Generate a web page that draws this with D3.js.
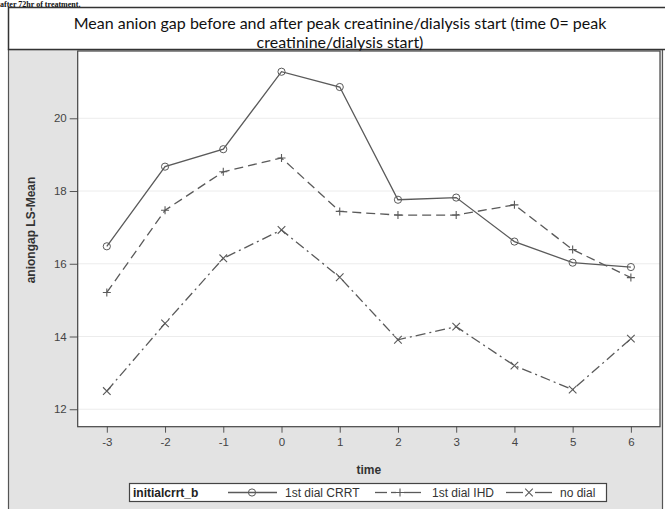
<!DOCTYPE html>
<html>
<head>
<meta charset="utf-8">
<script src="https://cdn.jsdelivr.net/npm/d3@7"></script>
<style>
  html, body { margin: 0; padding: 0; background: #fff; }
  svg { display: block; }
</style>
</head>
<body>
<svg id="chart" width="665" height="509"></svg>
<script>
// Time points relative to peak creatinine / dialysis start
const times = [-3, -2, -1, 0, 1, 2, 3, 4, 5, 6];

// Anion gap LS-means by initial treatment group
const crrtMeans   = [16.48, 18.67, 19.15, 21.28, 20.86, 17.76, 17.82, 16.61, 16.03, 15.91];
const ihdMeans    = [15.21, 17.47, 18.53, 18.91, 17.44, 17.34, 17.34, 17.62, 16.39, 15.62];
const noDialMeans = [12.50, 14.36, 16.15, 16.93, 15.63, 13.91, 14.27, 13.20, 12.54, 13.94];

const seriesNames = ["1st dial CRRT", "1st dial IHD", "no dial"];
const yTicks = [12, 14, 16, 18, 20];
const xTicks = times;

const titleLines = [
  "Mean anion gap before and after peak creatinine/dialysis start (time 0= peak",
  "creatinine/dialysis start)"
];

const series = [
  { name: seriesNames[0], values: crrtMeans,   dash: null,       marker: "circle" },
  { name: seriesNames[1], values: ihdMeans,    dash: "9,5",      marker: "plus" },
  { name: seriesNames[2], values: noDialMeans, dash: "10,4,2,4", marker: "x" }
];

const svg = d3.select("#chart");
const lineColor = "#5a5a5a";

// Caption line from the preceding paragraph
svg.append("text")
  .attr("x", 0).attr("y", 6.5)
  .attr("font-family", "Liberation Serif, serif")
  .attr("font-weight", "bold")
  .attr("font-size", 8)
  .attr("fill", "#111")
  .text("after 72hr of treatment.");

// Outer graph frame
svg.append("rect")
  .attr("x", 8.5).attr("y", 49.5).attr("width", 654).attr("height", 470)
  .attr("fill", "#e3e3e3").attr("stroke", "#555").attr("stroke-width", 1.2);

// Title box
svg.append("rect")
  .attr("x", 8.5).attr("y", 7.5).attr("width", 660).attr("height", 42)
  .attr("fill", "#fff").attr("stroke", "#333").attr("stroke-width", 1.5);

svg.selectAll("text.title").data(titleLines).join("text")
  .attr("class", "title")
  .attr("x", 340)
  .attr("y", (d, i) => 29 + i * 19)
  .attr("text-anchor", "middle")
  .attr("font-family", "Lato, 'Open Sans', sans-serif")
  .attr("font-size", 16)
  .attr("fill", "#111")
  .text(d => d);

// Plot area
const plot = { left: 77.7, right: 660, top: 51, bottom: 426.7 };

const x = d3.scaleLinear().domain([-3.5, 6.5]).range([plot.left, plot.right]);
const y = d3.scaleLinear().domain([11.52, 21.85]).range([plot.bottom, plot.top]);

svg.append("rect")
  .attr("x", plot.left).attr("y", plot.top)
  .attr("width", plot.right - plot.left).attr("height", plot.bottom - plot.top)
  .attr("fill", "#fff");

// Horizontal grid lines
svg.append("g").selectAll("line").data(yTicks).join("line")
  .attr("x1", plot.left).attr("x2", plot.right)
  .attr("y1", d => y(d)).attr("y2", d => y(d))
  .attr("stroke", "#ececec").attr("stroke-width", 1);

// Axes (plain hyphen-minus for negative ticks)
const axisFont = "Liberation Sans, Arial, sans-serif";
const plainFormat = d => String(d);

const yAxis = svg.append("g")
  .attr("transform", `translate(${plot.left},0)`)
  .call(d3.axisLeft(y).tickValues(yTicks).tickSize(8).tickPadding(3).tickFormat(plainFormat));
yAxis.select(".domain").remove();
yAxis.selectAll("line").attr("stroke", "#555");
yAxis.selectAll("text").attr("font-family", axisFont).attr("font-size", 11.5).attr("fill", "#444");

const xAxis = svg.append("g")
  .attr("transform", `translate(0,${plot.bottom})`)
  .call(d3.axisBottom(x).tickValues(xTicks).tickSize(6).tickPadding(5).tickFormat(plainFormat));
xAxis.select(".domain").remove();
xAxis.selectAll("line").attr("stroke", "#555");
xAxis.selectAll("text").attr("font-family", axisFont).attr("font-size", 11.5).attr("fill", "#444");

// Plot border
svg.append("rect")
  .attr("x", plot.left).attr("y", plot.top)
  .attr("width", plot.right - plot.left).attr("height", plot.bottom - plot.top)
  .attr("fill", "none").attr("stroke", "#444").attr("stroke-width", 1.2);

// Axis titles
svg.append("text")
  .attr("transform", `translate(35,230) rotate(-90)`)
  .attr("text-anchor", "middle")
  .attr("font-family", axisFont).attr("font-weight", "bold").attr("font-size", 12)
  .attr("fill", "#333")
  .text("aniongap LS-Mean");

svg.append("text")
  .attr("x", (plot.left + plot.right) / 2).attr("y", 474)
  .attr("text-anchor", "middle")
  .attr("font-family", axisFont).attr("font-weight", "bold").attr("font-size", 12)
  .attr("fill", "#333")
  .text("time");

// Marker drawing
function drawMarker(g, type, cx, cy) {
  if (type === "circle") {
    g.append("circle").attr("cx", cx).attr("cy", cy).attr("r", 3.6)
      .attr("fill", "none").attr("stroke", lineColor).attr("stroke-width", 1);
  } else if (type === "plus") {
    const s = 4;
    g.append("path").attr("d", `M${cx - s},${cy}H${cx + s}M${cx},${cy - s}V${cy + s}`)
      .attr("stroke", lineColor).attr("stroke-width", 1.1);
  } else {
    const s = 3.8;
    g.append("path").attr("d", `M${cx - s},${cy - s}L${cx + s},${cy + s}M${cx - s},${cy + s}L${cx + s},${cy - s}`)
      .attr("stroke", lineColor).attr("stroke-width", 1.1);
  }
}

// Series lines and markers
const line = d3.line().x(d => x(d[0])).y(d => y(d[1]));

series.forEach(s => {
  const pts = times.map((t, i) => [t, s.values[i]]);
  const g = svg.append("g");
  g.append("path").datum(pts)
    .attr("d", line)
    .attr("fill", "none")
    .attr("stroke", lineColor)
    .attr("stroke-width", 1.3)
    .attr("stroke-dasharray", s.dash);
  pts.forEach(p => drawMarker(g, s.marker, x(p[0]), y(p[1])));
});

// Legend
const legend = svg.append("g");
legend.append("rect")
  .attr("x", 129.5).attr("y", 483.5).attr("width", 477).attr("height", 18)
  .attr("fill", "#fff").attr("stroke", "#444").attr("stroke-width", 1.2);

legend.append("text")
  .attr("x", 133).attr("y", 497)
  .attr("font-family", axisFont).attr("font-weight", "bold").attr("font-size", 12)
  .attr("fill", "#222")
  .text("initialcrrt_b");

// Sample segments for each legend entry: [start, end] pairs around the marker
const legendItems = [
  { segs: [[228, 277]],                         mx: 252, tx: 285 },
  { segs: [[375, 387], [391, 396], [404, 421]], mx: 400, tx: 432 },
  { segs: [[506, 523], [535, 552]],             mx: 529, tx: 560 }
];

series.forEach((s, i) => {
  const it = legendItems[i];
  it.segs.forEach(sg => {
    legend.append("line")
      .attr("x1", sg[0]).attr("x2", sg[1]).attr("y1", 492.5).attr("y2", 492.5)
      .attr("stroke", lineColor).attr("stroke-width", 1.3);
  });
  drawMarker(legend, s.marker, it.mx, 492.5);
  legend.append("text")
    .attr("x", it.tx).attr("y", 497)
    .attr("font-family", axisFont).attr("font-size", 12)
    .attr("fill", "#333")
    .text(s.name);
});
</script>
</body>
</html>
